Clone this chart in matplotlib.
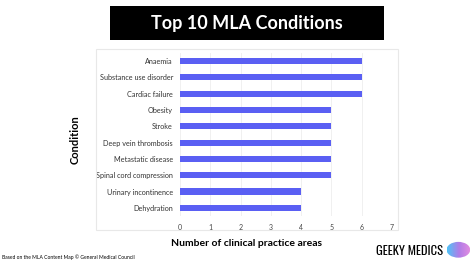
import matplotlib
matplotlib.use("Agg")
import matplotlib.pyplot as plt
from matplotlib import font_manager as fm
from matplotlib.patches import Rectangle, Ellipse
import numpy as np

conditions = ["Anaemia", "Substance use disorder", "Cardiac failure", "Obesity",
              "Stroke", "Deep vein thrombosis", "Metastatic disease",
              "Spinal cord compression", "Urinary incontinence", "Dehydration"]
values = [6, 6, 6, 5, 5, 5, 5, 5, 4, 4]
xticks = [0, 1, 2, 3, 4, 5, 6, 7]

BAR = "#5a5ff3"


def pick(name, wmin, wmax, fb_family, fb_weight, size):
    best = None
    for f in fm.fontManager.ttflist:
        if (f.name == name and f.style == "normal" and "[" not in f.fname
                and isinstance(f.weight, int) and wmin <= f.weight <= wmax):
            best = f
            break
    if best is not None:
        return fm.FontProperties(fname=best.fname, size=size)
    return fm.FontProperties(family=fb_family, weight=fb_weight, size=size)


def reg(size):
    return pick("Raleway", 400, 500, ["Lato", "DejaVu Sans"], "normal", size)


def bold(size):
    return pick("Raleway", 600, 700, ["Lato", "DejaVu Sans"], "bold", size)


LOGO = ["Oswald", "Bebas Neue", "Barlow Condensed", "DejaVu Sans"]

fig = plt.figure(figsize=(4.74, 2.66), dpi=100)
fig.patch.set_facecolor("white")

# chart frame
fig.patches.append(Rectangle((0.2025, 0.1353), 0.637, 0.680, transform=fig.transFigure,
                             fill=False, edgecolor="#e8e8e8", lw=0.8, zorder=0))
# title box
fig.patches.append(Rectangle((0.232, 0.8496), 0.578, 0.1278, transform=fig.transFigure,
                             facecolor="black", edgecolor="none", zorder=1))
fig.text(0.521, 0.912, "Top 10 MLA Conditions", color="white",
         ha="center", va="center", fontproperties=bold(13))

ax = fig.add_axes([0.3797, 0.188, 0.4473, 0.613])
y = np.arange(len(conditions))
ax.barh(y, values, height=0.38, color=BAR, zorder=3)
ax.set_xlim(0, 7)
ax.set_ylim(len(conditions) - 0.5, -0.5)
ax.set_yticks(y)
ax.set_yticklabels(conditions, fontproperties=reg(5.2), color="#333333")
ax.set_xticks(xticks)
ax.set_xticklabels([str(t) for t in xticks], fontproperties=reg(5), color="#444444")
ax.tick_params(length=0, pad=6)
ax.tick_params(axis="y", pad=5)
for s in ax.spines.values():
    s.set_visible(False)
ax.grid(axis="x", color="#eeeeee", lw=0.6, zorder=0)
ax.set_axisbelow(True)

fig.text(0.158, 0.474, "Condition", rotation=90,
         ha="center", va="center", fontproperties=bold(8))
fig.text(0.521, 0.083, "Number of clinical practice areas",
         ha="center", va="center", fontproperties=bold(7.5))
fig.text(0.004, 0.034, "Based on the MLA Content Map \u00a9 General Medical Council",
         ha="left", va="center", fontproperties=reg(3.6))
fig.text(0.793, 0.057, "GEEKY MEDICS", fontsize=9, fontweight="bold",
         ha="left", va="center", family=LOGO)

# brain icon (simple gradient blob)
iax = fig.add_axes([0.942, 0.028, 0.050, 0.066])
grad = np.linspace(0, 1, 64)[None, :] * np.ones((32, 1))
cmap = matplotlib.colors.LinearSegmentedColormap.from_list("g", ["#4fc3f7", "#b07ce8", "#e58ee0"])
im = iax.imshow(grad, cmap=cmap, extent=[0, 1, 0, 1], aspect="auto")
clip = Ellipse((0.5, 0.5), 1.0, 0.9, transform=iax.transData)
im.set_clip_path(clip)
iax.set_xlim(0, 1); iax.set_ylim(0, 1)
iax.axis("off")

fig.savefig("out.png", dpi=100, facecolor="white")
